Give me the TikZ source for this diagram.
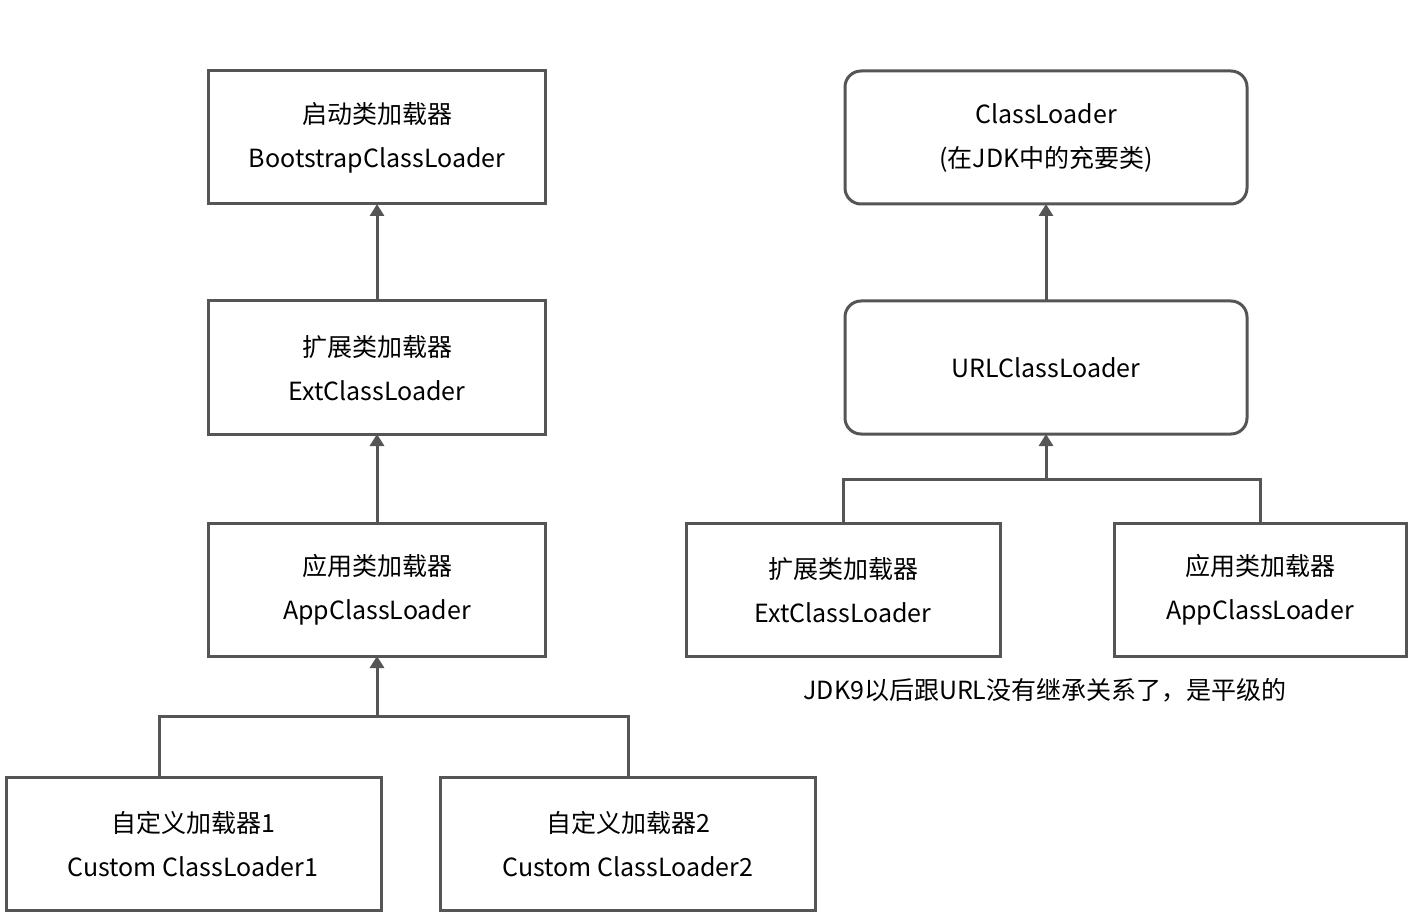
\documentclass[tikz,border=0pt]{standalone}
\usepackage{fontspec}
\setmainfont{Noto Sans CJK SC}
\usetikzlibrary{arrows.meta}
\definecolor{ln}{HTML}{555555}
\begin{document}
\begin{tikzpicture}[x=0.5pt,y=-0.5pt,
 box/.style={draw=ln,line width=1.5pt,fill=white},
 rbox/.style={box,rounded corners=8pt},
 txt/.style={font=\fontsize{12.5}{22}\selectfont,align=center,text=black},
 con/.style={draw=ln,line width=1.5pt},
 arr/.style={con,-{Triangle[length=6pt,width=7pt]}}]
\useasboundingbox (0,0) rectangle (1412,914);
% left
\draw[box] (208,71) rectangle (545,204); \node[txt] (boot) at (377,138) {启动类加载器\\BootstrapClassLoader};
\draw[box] (208,301) rectangle (545,434); \node[txt] (ext) at (377,368) {扩展类加载器\\ExtClassLoader};
\draw[box] (208,523) rectangle (545,656); \node[txt] (app) at (377,590) {应用类加载器\\AppClassLoader};
\draw[box] (6,777) rectangle (381,910); \node[txt] (c1) at (193,844) {自定义加载器1\\Custom ClassLoader1};
\draw[box] (440,777) rectangle (815,910); \node[txt] (c2) at (628,844) {自定义加载器2\\Custom ClassLoader2};
\coordinate (bootb) at (377,204); \coordinate (extt) at (377,301);
\coordinate (extb) at (377,434); \coordinate (appt) at (377,523);
\coordinate (appb) at (377,656); \coordinate (j) at (377,716);
\coordinate (c1t) at (159,777); \coordinate (c2t) at (628,777);
\draw[arr] (extt) -- (bootb);
\draw[arr] (appt) -- (extb);
\draw[con] (c1t) |- (j) -| (c2t);
\draw[arr] (j) -- (appb);
% right
\draw[rbox] (845,71) rectangle (1247,204); \node[txt] (cl) at (1046,138) {ClassLoader\\(在JDK中的充要类)};
\draw[rbox] (845,301) rectangle (1247,434); \node[txt] (url) at (1046,368) {URLClassLoader};
\draw[box] (686,523) rectangle (1000,656); \node[txt] (ext2) at (843,590) {扩展类加载器\\ExtClassLoader};
\draw[box] (1114,523) rectangle (1406,656); \node[txt] (app2) at (1260,590) {应用类加载器\\AppClassLoader};
\coordinate (clb) at (1046,204); \coordinate (urlt) at (1046,301);
\coordinate (urlb) at (1046,434); \coordinate (j2) at (1046,479);
\coordinate (e2t) at (843,523); \coordinate (a2t) at (1260,523);
\draw[arr] (urlt) -- (clb);
\draw[con] (e2t) |- (j2) -| (a2t);
\draw[arr] (j2) -- (urlb);
\node[txt] (note) at (1045,690) {JDK9以后跟URL没有继承关系了，是平级的};
\end{tikzpicture}
\end{document}
